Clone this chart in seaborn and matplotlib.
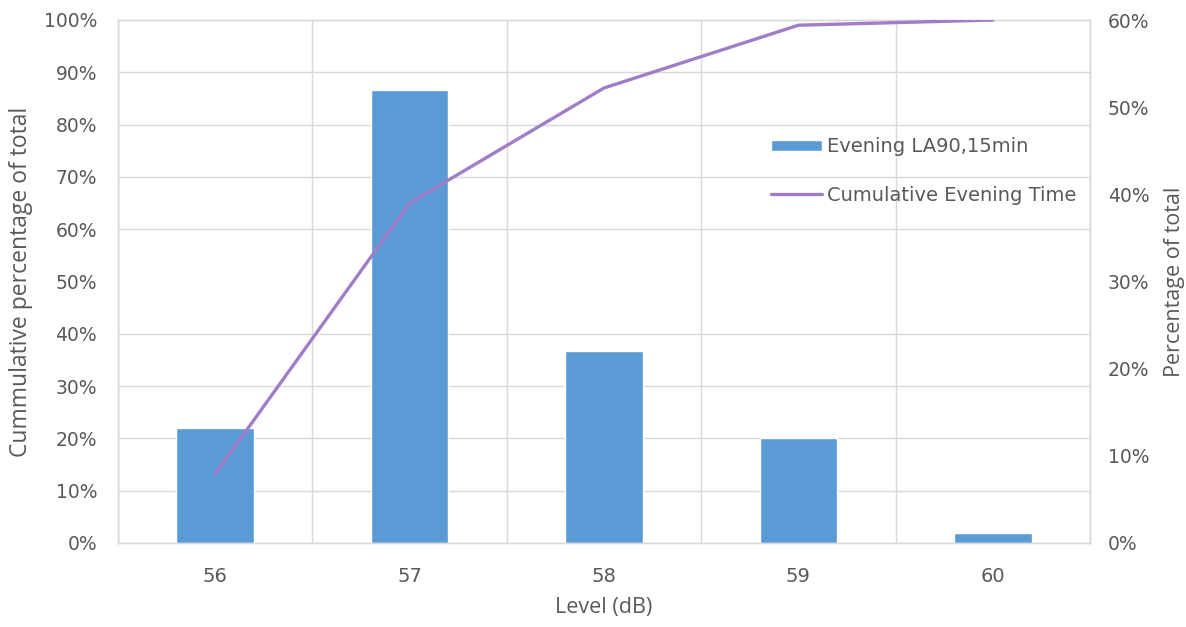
import numpy as np
import pandas as pd
import matplotlib
matplotlib.use("Agg")
import matplotlib.pyplot as plt
from matplotlib.ticker import FuncFormatter, MultipleLocator
import seaborn as sns

# Noise level distribution for the evening period
levels = ["56", "57", "58", "59", "60"]
pct_of_total = [13.2, 52.0, 22.0, 12.0, 1.2]          # percentage of total time
cumulative_pct = [13.2, 65.0, 87.0, 99.0, 100.0]      # cumulative percentage

bar_label = "Evening LA90,15min"
line_label = "Cumulative Evening Time"

df = pd.DataFrame({"level": levels, "pct": pct_of_total, "cum": cumulative_pct})

sns.set_theme(style="white")
plt.rcParams["font.family"] = ["DejaVu Sans"]

TEXT = "#595959"
GRID = "#D9D9D9"
BAR = "#5B9BD5"
LINE = "#A17DC7"
LABEL_FONT = ["Open Sans", "DejaVu Sans"]

fig = plt.figure(figsize=(11.86, 6.27), dpi=100)
W, H = 1186, 627
ax = fig.add_axes([118 / W, 1 - 543 / H, (1090 - 118) / W, (543 - 20) / H])
ax2 = ax.twinx()

# Bars: percentage of total, scale shown on the right
sns.barplot(data=df, x="level", y="pct", ax=ax, color=BAR, saturation=1,
            width=0.4, label=bar_label, zorder=3)
ax.set_ylim(0, 60)
ax.yaxis.tick_right()
ax.yaxis.set_label_position("right")
ax.yaxis.set_major_locator(MultipleLocator(10))
ax.yaxis.set_major_formatter(FuncFormatter(lambda v, _: f"{v:.0f}%"))
# gridlines follow the cumulative scale (every 10% of 0-100)
ax.set_yticks(np.linspace(0, 60, 11), minor=True)
ax.set_xticks(np.arange(-0.5, len(levels), 1.0), minor=True)
ax.grid(which="minor", color=GRID, linewidth=1, zorder=0)
ax.grid(which="major", visible=False)
ax.set_axisbelow(True)
ax.set_xlim(-0.5, len(levels) - 0.5)
ax.set_ylabel("Percentage of total", color=TEXT, fontsize=15.5,
              family=LABEL_FONT, labelpad=10)
ax.set_xlabel("Level (dB)", color=TEXT, fontsize=15.5,
              family=LABEL_FONT, labelpad=8)

# Line: cumulative percentage, scale shown on the left
sns.lineplot(data=df, x="level", y="cum", ax=ax2, color=LINE, linewidth=2.4,
             label=line_label, zorder=4)
ax2.set_ylim(0, 100)
ax2.yaxis.tick_left()
ax2.yaxis.set_label_position("left")
ax2.yaxis.set_major_locator(MultipleLocator(10))
ax2.yaxis.set_major_formatter(FuncFormatter(lambda v, _: f"{v:.0f}%"))
ax2.set_ylabel("Cummulative percentage of total", color=TEXT, fontsize=16.5,
               family=LABEL_FONT, labelpad=8)
ax2.set_xlim(-0.5, len(levels) - 0.5)
ax2.grid(False)

for a in (ax, ax2):
    a.tick_params(axis="both", which="both", length=0, colors=TEXT)
    for s in a.spines.values():
        s.set_color(GRID)
        s.set_linewidth(1)
ax.tick_params(axis="x", pad=17, labelsize=14)
ax.tick_params(axis="y", pad=13, labelsize=13.5)
ax2.tick_params(axis="y", pad=15, labelsize=13.5)

h1, l1 = ax.get_legend_handles_labels()
h2, l2 = ax2.get_legend_handles_labels()
if ax.get_legend():
    ax.get_legend().remove()
if ax2.get_legend():
    ax2.get_legend().remove()
leg = ax2.legend(h1 + h2, l1 + l2, loc="upper left", bbox_to_anchor=(0.654, 0.809),
                 frameon=False, fontsize=14, handlelength=2.6, handleheight=0.5,
                 handletextpad=0.25, labelspacing=1.5)
for t in leg.get_texts():
    t.set_color(TEXT)

fig.savefig("out.png", dpi=100)
